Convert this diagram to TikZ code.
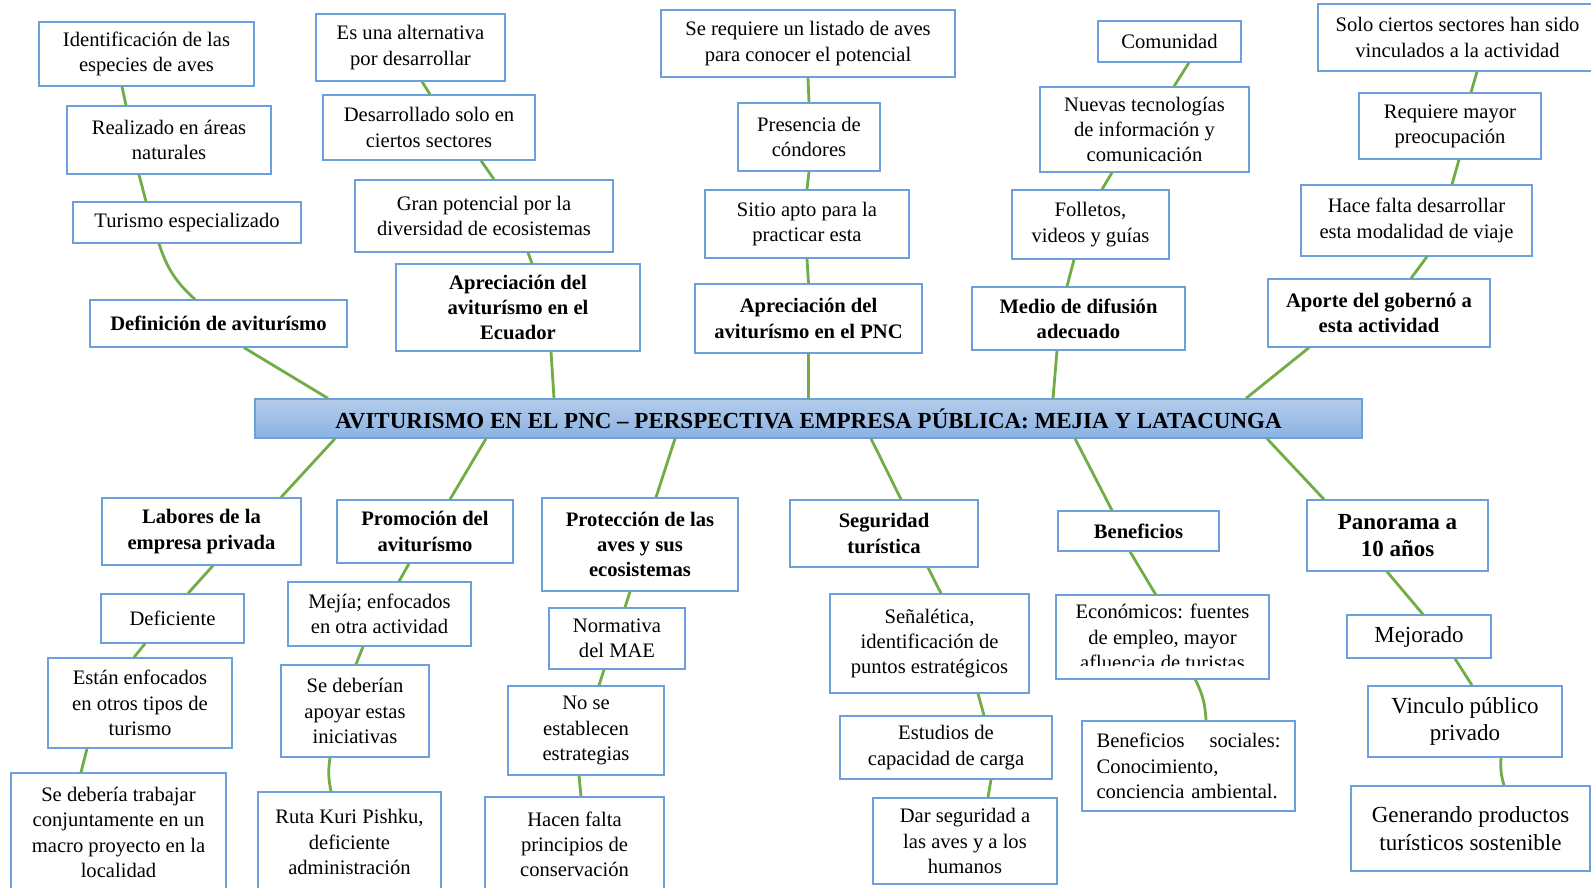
\documentclass[tikz,border=0pt]{standalone}
\usepackage{fontspec}
\setmainfont{Liberation Serif}
\usepackage{xcolor}

\definecolor{boxblue}{RGB}{108,160,220}
\definecolor{linkgreen}{RGB}{112,173,71}
\definecolor{titletop}{RGB}{180,205,236}
\definecolor{titlebot}{RGB}{138,178,226}

\tikzset{
    frame/.style={draw=boxblue, line width=1.3pt},
    leaf/.style={frame, fill=white, align=center, inner sep=0pt,
        font=\fontsize{20.6}{25.2}\selectfont},
    branch/.style={leaf, font=\fontsize{20.6}{25.2}\selectfont\bfseries},
    bigleaf/.style={leaf, font=\fontsize{23}{27.5}\selectfont},
    bigbranch/.style={leaf, font=\fontsize{23}{27.5}\selectfont\bfseries},
    root/.style={frame, top color=titletop, bottom color=titlebot, inner sep=0pt,
        font=\fontsize{23}{27.5}\selectfont\bfseries},
    sz/.style 2 args={minimum width=#1pt, minimum height=#2pt},
    link/.style={draw=linkgreen, line width=2.8pt}
}

\begin{document}
\begin{tikzpicture}[x=1pt, y=-1pt]
    \useasboundingbox (0,0) rectangle (1591,888);
    \clip (0,0) rectangle (1591,888);

    % centre
    \node[root, sz={1107}{39}] (pnc) at (808.5,418.5)
        {AVITURISMO EN EL PNC -- PERSPECTIVA EMPRESA PÚBLICA: MEJIA Y LATACUNGA};

    % upper branches
    \node[leaf, sz={215}{64}] (idesp) at (146.5,54) {Identificación de las\\especies de aves};
    \node[leaf, sz={204}{68}] (areas) at (169,140) {Realizado en áreas\\naturales};
    \node[leaf, sz={228}{41}] (turesp) at (187,222.5) {Turismo especializado};
    \node[branch, sz={257}{47}] (defin) at (218.5,323.5) {Definición de aviturísmo};

    \node[leaf, sz={189}{67}] (altern) at (410.5,47.5) {Es una alternativa\\por desarrollar};
    \node[leaf, sz={212}{65}] (sectores) at (429,127.5) {Desarrollado solo en\\ciertos sectores};
    \node[leaf, sz={258}{72}] (potencial) at (484,216) {Gran potencial por la\\diversidad de ecosistemas};
    \node[branch, sz={244}{87}] (apecu) at (518,307.5) {Apreciación del\\aviturísmo en el\\Ecuador};

    \node[leaf, sz={294}{67}] (listado) at (808,43.5) {Se requiere un listado de aves\\para conocer el potencial};
    \node[leaf, sz={142}{68}] (condor) at (809,137) {Presencia de\\cóndores};
    \node[leaf, sz={204}{68}] (sitio) at (807,224) {Sitio apto para la\\practicar esta};
    \node[branch, sz={227}{69}] (appnc) at (808.5,318.5) {Apreciación del\\aviturísmo en el PNC};

    \node[leaf, sz={143}{41}] (comun) at (1169.5,41.5) {Comunidad};
    \node[leaf, sz={209}{85}] (tic) at (1144.5,129.5) {Nuevas tecnologías\\de información y\\comunicación};
    \node[leaf, sz={157}{69}] (folleto) at (1090.5,224.5) {Folletos,\\videos y guías};
    \node[branch, sz={213}{63}] (medio) at (1078.5,318.5) {Medio de difusión\\adecuado};

    \node[leaf, sz={279}{67}] (vinc) at (1457.5,37.5) {Solo ciertos sectores han sido\\vinculados a la actividad};
    \node[leaf, sz={182}{66}] (preoc) at (1450,126) {Requiere mayor\\preocupación};
    \node[leaf, sz={231}{71}] (modal) at (1416.5,220.5) {Hace falta desarrollar\\esta modalidad de viaje};
    \node[branch, sz={222}{68}] (aporte) at (1379,313) {Aporte del gobernó a\\esta actividad};

    % lower branches
    \node[branch, sz={199}{67}] (labor) at (201.5,531.5) {Labores de la\\empresa privada};
    \node[leaf, sz={143}{49}] (defic) at (172.5,618.5) {Deficiente};
    \node[leaf, sz={184}{90}] (otros) at (140,703) {Están enfocados\\en otros tipos de\\turismo};
    \node[leaf, sz={215}{119}] (macro) at (118.5,832.5) {Se debería trabajar\\conjuntamente en un\\macro proyecto en la\\localidad};

    \node[branch, sz={176}{63}] (promo) at (425,531.5) {Promoción del\\aviturísmo};
    \node[leaf, sz={183}{64}] (mejia) at (379.5,614) {Mejía; enfocados\\en otra actividad};
    \node[leaf, sz={148}{92}] (apoyo) at (355,711) {Se deberían\\apoyar estas\\iniciativas};
    \node[leaf, sz={183}{100}] (ruta) at (349.5,842) {Ruta Kuri Pishku,\\deficiente\\administración};

    \node[branch, sz={196}{93}] (protec) at (640,544.5) {Protección de las\\aves y sus\\ecosistemas};
    \node[leaf, sz={136}{61}] (mae) at (617,638.5) {Normativa\\del MAE};
    \node[leaf, sz={156}{89}] (estrat) at (586,730.5) {No se\\establecen\\estrategias};
    \node[leaf, sz={179}{95}] (princ) at (574.5,844.5) {Hacen falta\\principios de\\conservación};

    \node[branch, sz={188}{67}] (segur) at (884,533.5) {Seguridad\\turística};
    \node[leaf, sz={199}{99}] (senal) at (929.5,643.5) {Señalética,\\identificación de\\puntos estratégicos};
    \node[leaf, sz={212}{63}] (carga) at (946,747.5) {Estudios de\\capacidad de carga};
    \node[leaf, sz={184}{86}] (dar) at (965,841) {Dar seguridad a\\las aves y a los\\humanos};

    \node[branch, sz={161}{40}] (benef) at (1138.5,531) {Beneficios};
    \begin{scope}
        \clip (1056,595) rectangle (1269,665);
        \node[leaf, draw=none, outer sep=0pt, sz={213}{84}] (econ) at (1162.5,637)
            {Económicos: fuentes\\de empleo, mayor\\afluencia de turistas};
    \end{scope}
    \draw[frame] (econ.south west) rectangle (econ.north east);
    \node[leaf, sz={213}{90}, text width=184pt, align=left] (social) at (1188.5,766)
        {Beneficios\hfill sociales:\\Conocimiento,\\\mbox{conciencia ambiental.}};

    \node[bigbranch, sz={181}{71}] (panor) at (1397.5,535.5) {Panorama a\\10 años};
    \node[bigleaf, sz={144}{43}] (mejor) at (1419,636.5) {Mejorado};
    \node[bigleaf, sz={194}{71}] (vpp) at (1465,721.5) {Vinculo público\\privado};
    \node[bigleaf, sz={239}{85}] (prod) at (1470.5,828.5) {Generando productos\\turísticos sostenible};

    % links above the centre
    \draw[link]
        ([xshift=-24.5pt]idesp.south) -- ([xshift=-43pt]areas.north)
        ([xshift=-30pt]areas.south) -- ([xshift=-41pt]turesp.north)
        ([xshift=-28pt]turesp.south) to[bend right=15] ([xshift=-23.5pt]defin.north)
        ([xshift=25.5pt]defin.south) -- ([xshift=-480.5pt]pnc.north)
        ([xshift=11.5pt]altern.south) -- ([xshift=1pt]sectores.north)
        ([xshift=52pt]sectores.south) -- ([xshift=10pt]potencial.north)
        ([xshift=44pt]potencial.south) -- ([xshift=14pt]apecu.north)
        ([xshift=33pt]apecu.south) -- ([xshift=-254.5pt]pnc.north)
        (listado.south) -- (condor.north)
        (condor.south) -- (sitio.north)
        (sitio.south) -- (appnc.north)
        (appnc.south) -- (pnc.north)
        ([xshift=19.5pt]comun.south) -- ([xshift=29.5pt]tic.north)
        ([xshift=-32.5pt]tic.south) -- ([xshift=11.5pt]folleto.north)
        ([xshift=-16.5pt]folleto.south) -- ([xshift=-11.5pt]medio.north)
        ([xshift=-21.5pt]medio.south) -- ([xshift=244.5pt]pnc.north)
        ([xshift=19.5pt]vinc.south) -- ([xshift=21pt]preoc.north)
        ([xshift=9pt]preoc.south) -- ([xshift=35.5pt]modal.north)
        ([xshift=10.5pt]modal.south) -- ([xshift=32pt]aporte.north)
        ([xshift=-70pt]aporte.south) -- ([xshift=437.5pt]pnc.north);

    % links below the centre
    \draw[link]
        ([xshift=-473.5pt]pnc.south) -- ([xshift=79.5pt]labor.north)
        ([xshift=-322.5pt]pnc.south) -- ([xshift=25pt]promo.north)
        ([xshift=-133.5pt]pnc.south) -- ([xshift=16pt]protec.north)
        ([xshift=62.5pt]pnc.south) -- ([xshift=17pt]segur.north)
        ([xshift=266.5pt]pnc.south) -- ([xshift=-26.5pt]benef.north)
        ([xshift=458.5pt]pnc.south) -- ([xshift=-73.5pt]panor.north)
        ([xshift=11.5pt]labor.south) -- ([xshift=15.5pt]defic.north)
        ([xshift=-27.5pt]defic.south) -- ([xshift=-6pt]otros.north)
        ([xshift=-53pt]otros.south) -- ([xshift=-37.5pt]macro.north)
        ([xshift=-16pt]promo.south) -- ([xshift=19.5pt]mejia.north)
        ([xshift=-16.5pt]mejia.south) -- ([xshift=1pt]apoyo.north)
        ([xshift=-25pt]apoyo.south) to[bend right=10] ([xshift=-18.5pt]ruta.north)
        ([xshift=-10pt]protec.south) -- ([xshift=8pt]mae.north)
        ([xshift=-13pt]mae.south) -- ([xshift=13pt]estrat.north)
        ([xshift=-7pt]estrat.south) -- ([xshift=6.5pt]princ.north)
        ([xshift=44pt]segur.south) -- ([xshift=11.5pt]senal.north)
        ([xshift=48.5pt]senal.south) -- ([xshift=38pt]carga.north)
        ([xshift=45pt]carga.south) -- ([xshift=23pt]dar.north)
        ([xshift=-8.5pt]benef.south) -- ([xshift=-6.5pt]econ.north)
        ([xshift=32.5pt]econ.south) to[bend left=12] ([xshift=17.5pt]social.north)
        ([xshift=-10.5pt]panor.south) -- ([xshift=4pt]mejor.north)
        ([xshift=36pt]mejor.south) -- ([xshift=7pt]vpp.north)
        ([xshift=36pt]vpp.south) to[bend right=10] ([xshift=33.5pt]prod.north);
\end{tikzpicture}
\end{document}
